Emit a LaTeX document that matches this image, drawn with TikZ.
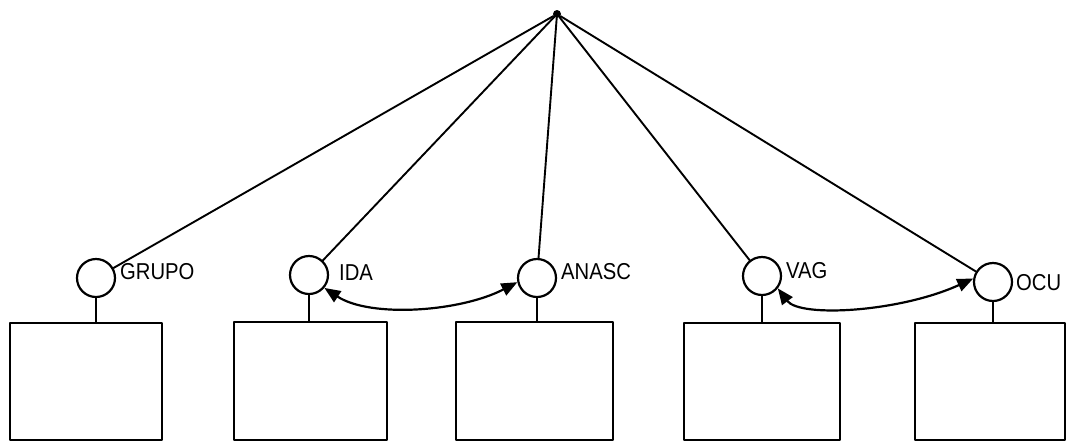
\documentclass[tikz,border=0pt]{standalone}
\usepackage{fontspec}
\setmainfont{Liberation Sans}
\usetikzlibrary{arrows.meta}
\newcommand{\tagtext}[1]{\scalebox{0.88}[1]{\fontsize{23}{23}\selectfont #1}}
\begin{document}
\begin{tikzpicture}[x=1pt,y=-1pt,
  line cap=round, line join=round,
  hub/.style={circle, fill=black, inner sep=0pt, minimum size=8pt},
  port/.style={circle, draw, line width=2.2pt, inner sep=0pt, minimum size=38pt},
  unit/.style={draw, line width=2.6pt, inner sep=0pt},
  tag/.style={anchor=west, inner sep=0pt},
  spoke/.style={line width=1.9pt},
  stem/.style={line width=2.2pt},
  link/.style={line width=2.2pt, {Triangle[length=16pt,width=13pt]}-{Triangle[length=16pt,width=13pt]}}
]
\useasboundingbox (0,0) rectangle (1083,445);

% hub at the top
\node[hub] (apex) at (557,14) {};

% ports
\node[port] (c1) at (96,278) {};
\node[port] (c2) at (309,275) {};
\node[port] (c3) at (537,278) {};
\node[port] (c4) at (762,276) {};
\node[port] (c5) at (993,282) {};

% labels
\node[tag] (l1) at (120,272) {\tagtext{GRUPO}};
\node[tag] (l2) at (339,273) {\tagtext{IDA}};
\node[tag] (l3) at (561,272) {\tagtext{ANASC}};
\node[tag] (l4) at (786,271) {\tagtext{VAG}};
\node[tag] (l5) at (1016,283) {\tagtext{OCU}};

% boxes
\node[unit, minimum width=152pt, minimum height=117pt] (b1) at (86,381.5) {};
\node[unit, minimum width=153pt, minimum height=118pt] (b2) at (310.5,381) {};
\node[unit, minimum width=157pt, minimum height=118pt] (b3) at (534.5,381) {};
\node[unit, minimum width=156pt, minimum height=117pt] (b4) at (762,381.5) {};
\node[unit, minimum width=150pt, minimum height=117pt] (b5) at (990,381.5) {};

% spokes from the hub
\foreach \c in {c1,c2,c3,c4,c5}
  \draw[spoke] (apex) -- (\c);

% stems from ports to boxes
\foreach \i in {1,...,5}
  \draw[stem] (c\i.south) -- (c\i.south |- b\i.north);

% double-headed links
\draw[link] (c2.-40) .. controls (370,318) and (460,312) .. (c3.-168);
\draw[link] (c4.-38) .. controls (800,318) and (900,312) .. (c5.170);
\end{tikzpicture}
\end{document}
